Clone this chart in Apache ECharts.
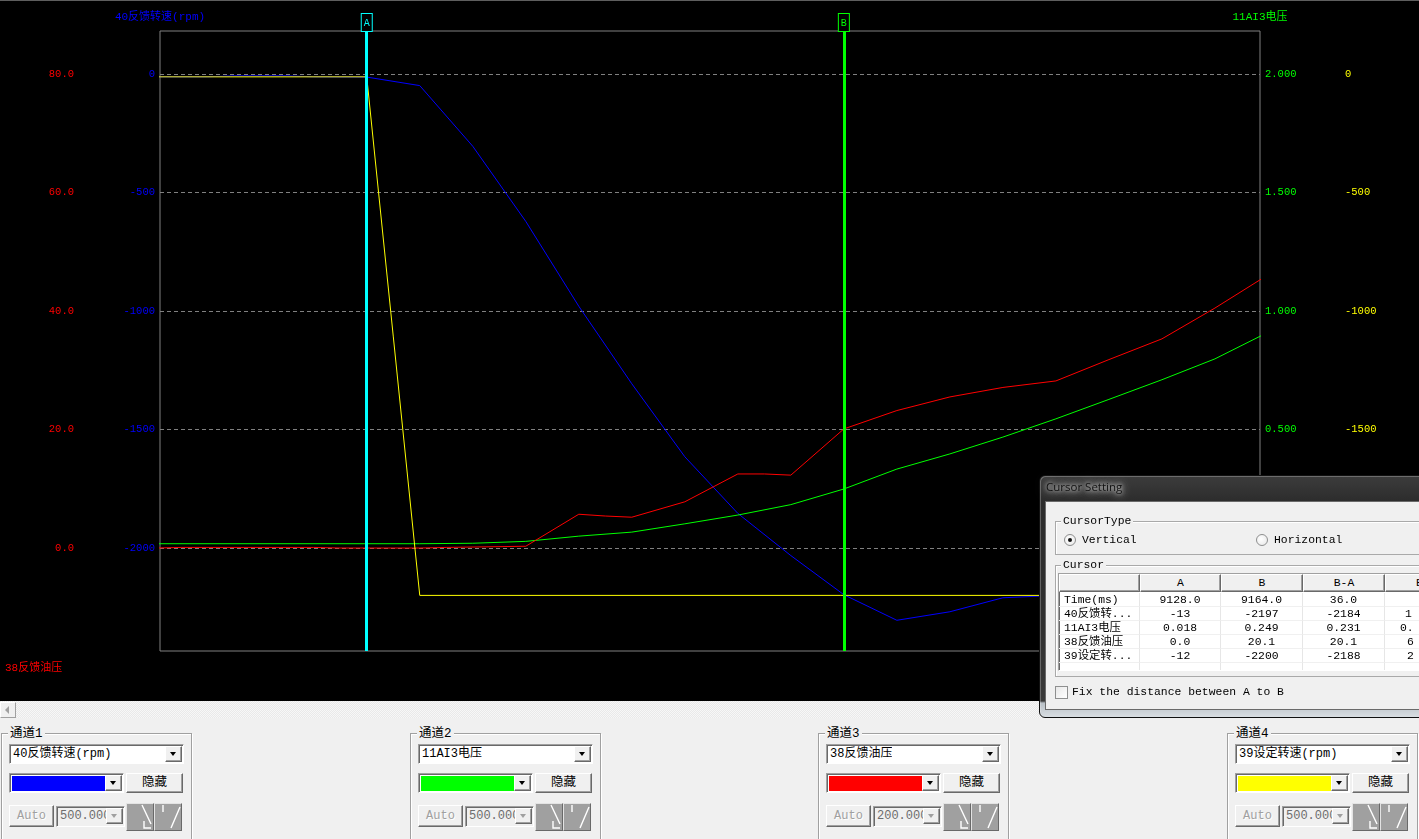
<!DOCTYPE html>
<html>
<head>
<meta charset="utf-8">
<script src="https://cdn.jsdelivr.net/npm/echarts@6/dist/echarts.min.js"></script>
<style>
html,body{margin:0;padding:0;width:1419px;height:839px;overflow:hidden;background:#f0f0f0;
  font-family:"Liberation Mono","Noto Sans CJK SC",monospace;color:#000;}
*{box-sizing:border-box;}
#chart{position:absolute;left:0;top:0;width:1419px;height:701px;background:#000;}
#topline{position:absolute;left:0;top:0;width:1419px;height:1px;background:#5e5e5e;z-index:3;}
#scroll{position:absolute;left:0;top:701px;width:1419px;height:17px;
  background:repeating-conic-gradient(#f7f7f7 0% 25%, #e9e9e9 0% 50%) 0 0/2px 2px;}
#scrollbtn{position:absolute;left:0;top:1px;width:16px;height:16px;background:#f0f0f0;
  border:1px solid;border-color:#fff #a0a0a0 #a0a0a0 #fff;}
#scrollbtn:after{content:"";position:absolute;left:4px;top:3px;border-top:4px solid transparent;
  border-bottom:4px solid transparent;border-right:4px solid #a0a0a0;}
.grp{position:absolute;border:1px solid #a0a0a0;box-shadow:inset 1px 1px 0 #fff,1px 1px 0 #fff;}
.gtitle{position:absolute;background:#f0f0f0;padding:0 2px;font-size:12.5px;line-height:14px;white-space:nowrap;}
.sunken{position:absolute;border:1px solid;border-color:#a0a0a0 #fff #fff #a0a0a0;box-shadow:inset 1px 1px 0 #696969;}
.raised{position:absolute;background:#f0f0f0;border:1px solid;border-color:#fff #696969 #696969 #fff;box-shadow:inset -1px -1px 0 #a0a0a0;}
.combotext{position:absolute;left:3px;top:1px;font-size:12px;line-height:17px;white-space:nowrap;overflow:hidden;}
.ddbtn{position:absolute;right:1px;top:1px;width:17px;height:16px;}
.arr{position:absolute;left:4px;top:5px;width:0;height:0;border-left:3.5px solid transparent;border-right:3.5px solid transparent;border-top:4px solid #000;}
.btntext{position:absolute;left:0;top:0;width:100%;text-align:center;font-size:12.5px;line-height:18px;}
.dis{color:#a0a0a0;text-shadow:1px 1px 0 #fff;}
.iconbtn{position:absolute;background:#a0a0a0;border:1px solid;border-color:#e3e3e3 #696969 #696969 #e3e3e3;}
/* dialog */
#dlg{position:absolute;left:1039px;top:475px;width:420px;height:243px;border:1px solid #111;border-radius:6px;
  background:linear-gradient(180deg,#3c3c3c 0px,#2c2c2c 26px,#303030 150px,#3a3a3a 225px,#b9c0c6 227px,#dde2e6 243px);
  box-shadow:inset 1px 1px 0 rgba(255,255,255,0.25);}
#dlgTitle{position:absolute;left:1046px;top:479px;font-family:"Open Sans","Noto Sans",sans-serif;font-size:11.5px;line-height:16px;
  color:#111;padding:0 2px;margin-left:-2px;
  text-shadow:0 0 4px rgba(255,255,255,0.9),0 0 8px rgba(255,255,255,0.7),0 0 12px rgba(220,220,220,0.6);}
#client{position:absolute;left:1045px;top:501px;width:420px;height:209px;background:#f0f0f0;border:1px solid #6a6a6a;}
.dtext{position:absolute;font-size:11.4px;line-height:15px;white-space:nowrap;}
.dgrp{position:absolute;border:1px solid #a9a9a9;box-shadow:inset 1px 1px 0 #fff;}
.dgtitle{position:absolute;background:#f0f0f0;padding:0 2px;font-size:11.4px;line-height:14px;}
.radio{position:absolute;width:12px;height:12px;border-radius:50%;border:1px solid #8e8f8f;
  background:radial-gradient(circle at 40% 40%,#fff 0%,#e6e6e6 100%);}
.dot{position:absolute;left:3px;top:3px;width:4px;height:4px;border-radius:50%;background:#111;}
.chk{position:absolute;width:13px;height:13px;border:1px solid #8e8f8f;background:linear-gradient(135deg,#e8e8e8,#fff);}
#tbl{position:absolute;left:1058px;top:573px;width:420px;height:98px;background:#fff;border:1px solid;border-color:#a0a0a0 #fff #fff #a0a0a0;box-shadow:inset 1px 1px 0 #696969;overflow:hidden;}
.hcell{position:absolute;top:0;height:18px;background:#f0f0f0;border:1px solid;border-color:#fff #696969 #696969 #fff;
  box-shadow:inset -1px -1px 0 #a0a0a0;font-size:11.4px;line-height:16px;text-align:center;}
.cell{position:absolute;height:14px;border-right:1px solid #e6e6e6;border-bottom:1px solid #f0f0f0;font-size:11.4px;line-height:14px;white-space:nowrap;overflow:hidden;}
</style>
</head>
<body>
<div id="chart"></div>
<div id="topline"></div>
<div id="scroll"><div id="scrollbtn"></div></div>
<div id="panel"></div>

<div id="dlg"></div>
<div id="dlgTitle">Cursor Setting</div>
<div id="client"></div>
<div class="dgrp" style="left:1055px;top:521px;width:420px;height:34px;"></div>
<div class="dgtitle" style="left:1061px;top:514px;">CursorType</div>
<div class="radio" style="left:1064px;top:534px;"><div class="dot"></div></div>
<div class="dtext" style="left:1082px;top:533px;">Vertical</div>
<div class="radio" style="left:1256px;top:534px;"></div>
<div class="dtext" style="left:1274px;top:533px;">Horizontal</div>
<div class="dgrp" style="left:1055px;top:565px;width:420px;height:112px;"></div>
<div class="dgtitle" style="left:1061px;top:558px;">Cursor</div>
<div id="tbl"></div>
<div class="chk" style="left:1055px;top:686px;"></div>
<div class="dtext" style="left:1072px;top:685px;">Fix the distance between A to B</div>

<script>
// ---------------- data ----------------
// 40反馈转速(rpm)  (blue, left inner axis)
const speedFbTime = [9112, 9116, 9118, 9122, 9124, 9128, 9132, 9136, 9140, 9144, 9148, 9152, 9156, 9160, 9164, 9168, 9172, 9176, 9180, 9184, 9188, 9192, 9196];
const speedFbRpm  = [-12, -12, -8, -8, -12, -13, -49, -305, -622, -980, -1307, -1615, -1854, -2032, -2197, -2305, -2269, -2210, -2200, -2198, -2200, -2199, -2200];
// 11AI3电压 (green, right inner axis)
const voltTime = [9112, 9132, 9136, 9140, 9144, 9148, 9152, 9156, 9160, 9164, 9168, 9172, 9176, 9180, 9184, 9188, 9192, 9196];
const voltVal  = [0.018, 0.018, 0.020, 0.028, 0.050, 0.067, 0.102, 0.139, 0.183, 0.249, 0.333, 0.397, 0.468, 0.545, 0.627, 0.710, 0.798, 0.910];
// 38反馈油压 (red, left outer axis)
const oilTime = [9112, 9114, 9124, 9126, 9132, 9134, 9140, 9144, 9146, 9148, 9152, 9156, 9158, 9160, 9164, 9168, 9172, 9176, 9180, 9184, 9188, 9192, 9196];
const oilVal  = [0.0, 0.1, 0.1, 0.0, 0.0, 0.1, 0.3, 5.7, 5.4, 5.2, 7.8, 12.5, 12.5, 12.3, 20.1, 23.2, 25.5, 27.1, 28.2, 31.8, 35.3, 40.5, 46.1];
// 39设定转速(rpm) (yellow, right outer axis)
const speedSetTime = [9112, 9128, 9132, 9196];
const speedSetRpm  = [-12, -12, -2200, -2200];

// axis ticks
const rpmTicks  = [0, -500, -1000, -1500, -2000];
const oilTicks  = [80, 60, 40, 20, 0];
const voltTicks = [2, 1.5, 1, 0.5, 0];

// cursors
const cursorNames = ['A', 'B'];
const cursorTimes = [9128, 9164];

// cursor table
const cursorCols = ['A', 'B', 'B-A'];
const cursorRows = ['Time(ms)', '40反馈转...', '11AI3电压', '38反馈油压', '39设定转...'];
const cursorAVals  = ['9128.0', '-13', '0.018', '0.0', '-12'];
const cursorBVals  = ['9164.0', '-2197', '0.249', '20.1', '-2200'];
const cursorBAVals = ['36.0', '-2184', '0.231', '20.1', '-2188'];
const cursorExtraVals = ['', '1', '0.', '6', '2'];

// channels (bottom panel)
const channelTitles  = ['通道1', '通道2', '通道3', '通道4'];
const channelSignals = ['40反馈转速(rpm)', '11AI3电压', '38反馈油压', '39设定转速(rpm)'];
const channelScales  = ['500.000', '500.000', '200.000', '500.000'];

// ---------------- style ----------------
const C_BLUE = '#0000ff', C_GREEN = '#00ff00', C_RED = '#ff0000', C_YELLOW = '#ffff00', C_CYAN = '#00ffff';
const channelColors = [C_BLUE, C_GREEN, C_RED, C_YELLOW];
const cursorColors = [C_CYAN, C_GREEN];
const MONO = '"Liberation Mono","Noto Sans CJK SC",monospace';

function pairs(t, v) { return t.map((x, i) => [x, v[i]]); }

function yAx(opts) {
  return Object.assign({
    type: 'value',
    axisLine: { show: false }, axisTick: { show: false }, splitLine: { show: false },
  }, opts);
}

const chart = echarts.init(document.getElementById('chart'), null, { renderer: 'canvas' });
chart.setOption({
  backgroundColor: '#000',
  animation: false,
  textStyle: { fontFamily: MONO },
  grid: { left: 160, right: 159, top: 31, height: 620, show: true, borderColor: '#808080', borderWidth: 1, backgroundColor: 'transparent' },
  xAxis: { type: 'value', min: 9112.4, max: 9195.4, axisLine: { show: false }, axisTick: { show: false }, axisLabel: { show: false }, splitLine: { show: false } },
  yAxis: [
    yAx({ position: 'left', min: -2434.6, max: 181.4, name: '40反馈转速(rpm)', nameLocation: 'end', nameGap: 8,
      nameTextStyle: { color: C_BLUE, fontSize: 11, fontFamily: MONO },
      axisLabel: { color: C_BLUE, fontSize: 10.5, margin: 5, fontFamily: MONO, customValues: rpmTicks, formatter: v => String(Math.round(v)) } }),
    yAx({ position: 'left', offset: 81, min: -17.38, max: 87.26,
      axisLabel: { color: C_RED, fontSize: 10.5, margin: 5, fontFamily: MONO, customValues: oilTicks, formatter: v => Number(v).toFixed(1) } }),
    yAx({ position: 'right', min: -0.4346, max: 2.1814, name: '11AI3电压', nameLocation: 'end', nameGap: 8,
      nameTextStyle: { color: C_GREEN, fontSize: 11, fontFamily: MONO },
      axisLabel: { color: C_GREEN, fontSize: 10.5, margin: 5, fontFamily: MONO, customValues: voltTicks, formatter: v => Number(v).toFixed(3) } }),
    yAx({ position: 'right', offset: 80, min: -2434.6, max: 181.4,
      axisLabel: { color: C_YELLOW, fontSize: 10.5, margin: 5, fontFamily: MONO, customValues: rpmTicks, formatter: v => String(Math.round(v)) } })
  ],
  graphic: [
    { type: 'text', left: 5, top: 663, silent: true, style: { text: '38反馈油压', fill: C_RED, font: '11px ' + MONO } }
  ],
  series: [
    { type: 'line', name: '40反馈转速(rpm)', yAxisIndex: 0, data: pairs(speedFbTime, speedFbRpm), showSymbol: false, silent: true,
      lineStyle: { color: C_BLUE, width: 1 }, itemStyle: { color: C_BLUE },
      markLine: { silent: true, symbol: ['none', 'none'], z: 3, label: { show: false },
        lineStyle: { color: '#808080', type: [4, 3], width: 1 }, data: rpmTicks.map(v => ({ yAxis: v })) } },
    { type: 'line', name: '11AI3电压', yAxisIndex: 2, data: pairs(voltTime, voltVal), showSymbol: false, silent: true,
      lineStyle: { color: C_GREEN, width: 1 }, itemStyle: { color: C_GREEN } },
    { type: 'line', name: '38反馈油压', yAxisIndex: 1, data: pairs(oilTime, oilVal), showSymbol: false, silent: true,
      lineStyle: { color: C_RED, width: 1 }, itemStyle: { color: C_RED } },
    { type: 'line', name: '39设定转速(rpm)', yAxisIndex: 3, data: pairs(speedSetTime, speedSetRpm), showSymbol: false, silent: true,
      lineStyle: { color: C_YELLOW, width: 1 }, itemStyle: { color: C_YELLOW },
      markLine: { silent: true, symbol: ['none', 'none'], z: 10,
        data: cursorTimes.map((t, i) => ({
          xAxis: t,
          lineStyle: { color: cursorColors[i], width: 3, type: 'solid' },
          label: { show: true, position: 'end', formatter: cursorNames[i], color: cursorColors[i], borderColor: cursorColors[i],
            borderWidth: 1, padding: [4, 2, 3, 2], distance: 0, fontSize: 10, fontFamily: MONO, backgroundColor: '#000' }
        })) } }
  ]
});

// ---------------- bottom panel ----------------
function ddButton(disabled) {
  return '<div class="raised ddbtn"><div class="arr" style="' + (disabled ? 'border-top-color:#a0a0a0' : '') + '"></div></div>';
}
const icon1 = '<svg width="26" height="26" style="position:absolute;left:0;top:0"><path d="M15 1 L24 20 M17 17 L17 24 L24 24" stroke="#fff" stroke-width="1.4" fill="none"/></svg>';
const icon2 = '<svg width="26" height="26" style="position:absolute;left:0;top:0"><path d="M25 3 L16 24 M8 1 L8 8" stroke="#fff" stroke-width="1.4" fill="none"/></svg>';
let html = '';
channelTitles.forEach((title, i) => {
  const gx = Math.round(1 + i * 408.7);
  html += '<div class="grp" style="left:' + gx + 'px;top:733px;width:191px;height:130px;"></div>';
  html += '<div class="gtitle" style="left:' + (gx + 7) + 'px;top:727px;">' + title + '</div>';
  html += '<div class="sunken" style="left:' + (gx + 8) + 'px;top:744px;width:175px;height:20px;background:#fff;">' +
          '<div class="combotext">' + channelSignals[i] + '</div>' + ddButton(false) + '</div>';
  html += '<div class="sunken" style="left:' + (gx + 8) + 'px;top:773px;width:115px;height:20px;background:#fff;">' +
          '<div style="position:absolute;left:2px;top:2px;width:94px;height:15px;background:' + channelColors[i] + '"></div>' + ddButton(false) + '</div>';
  html += '<div class="raised" style="left:' + (gx + 125) + 'px;top:773px;width:57px;height:20px;"><div class="btntext">隐藏</div></div>';
  html += '<div class="raised" style="left:' + (gx + 8) + 'px;top:805px;width:45px;height:22px;"><div class="btntext dis" style="line-height:20px;font-size:12px;">Auto</div></div>';
  html += '<div class="sunken" style="left:' + (gx + 55) + 'px;top:806px;width:69px;height:21px;background:#f0f0f0;">' +
          '<div class="combotext" style="width:48px;color:#6d6d6d;">' + channelScales[i] + '</div>' + ddButton(true) + '</div>';
  html += '<div class="iconbtn" style="left:' + (gx + 125) + 'px;top:803px;width:28px;height:28px;">' + icon1 + '</div>';
  html += '<div class="iconbtn" style="left:' + (gx + 153) + 'px;top:803px;width:28px;height:28px;">' + icon2 + '</div>';
});
document.getElementById('panel').innerHTML = html;

// ---------------- cursor table ----------------
const colX = [0, 81, 162, 244, 326, 408];
let t = '';
['', ...cursorCols, 'B'].forEach((h, c) => {
  const style = c === 4 ? 'text-align:left;padding-left:30px;' : '';
  t += '<div class="hcell" style="left:' + colX[c] + 'px;width:' + (colX[c + 1] - colX[c]) + 'px;' + style + '">' + h + '</div>';
});
const cols = [cursorRows, cursorAVals, cursorBVals, cursorBAVals, cursorExtraVals];
const extraOffsets = [0, 20, 15, 22, 22];
for (let r = 0; r < 6; r++) {
  for (let c = 0; c < 5; c++) {
    const txt = r < 5 ? cols[c][r] : '';
    let style = 'left:' + colX[c] + 'px;top:' + (19 + r * 14) + 'px;width:' + (colX[c + 1] - colX[c]) + 'px;';
    if (c === 0) style += 'padding-left:5px;text-align:left;';
    else if (c === 4) style += 'padding-left:' + extraOffsets[r] + 'px;text-align:left;';
    else style += 'text-align:center;';
    t += '<div class="cell" style="' + style + '">' + txt + '</div>';
  }
}
document.getElementById('tbl').innerHTML = t;
</script>
</body>
</html>
